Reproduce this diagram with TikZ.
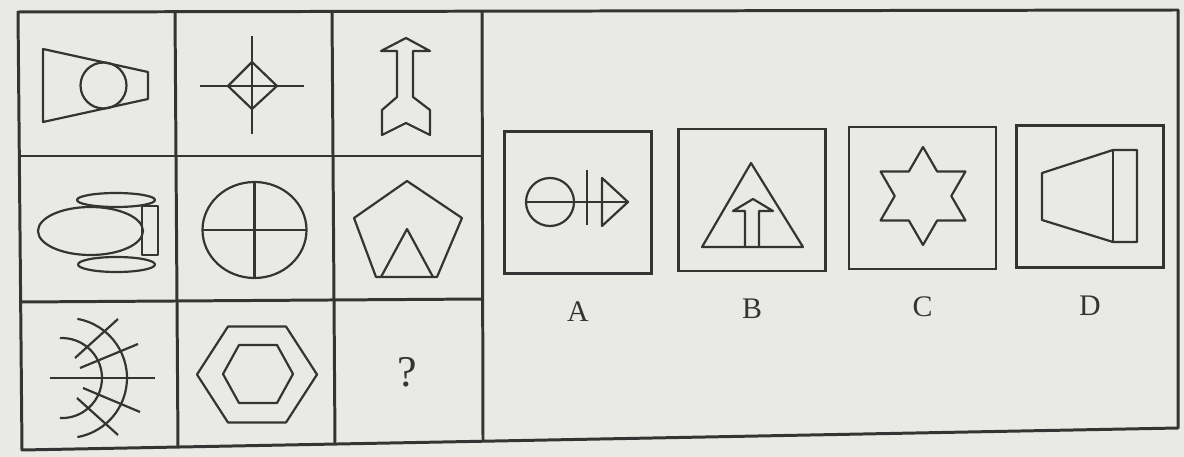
\documentclass[tikz,border=0pt]{standalone}
\usepackage{fontspec}
\setmainfont{Liberation Serif}
\usetikzlibrary{positioning}
\definecolor{PaperGray}{RGB}{233,233,230}
\definecolor{InkGray}{RGB}{52,52,52}
\tikzset{
  gridline/.style={draw=InkGray,line width=1.7pt,line join=round},
  figline/.style={draw=InkGray,line width=1.25pt,line join=round},
  optbox/.style={draw=InkGray,line width=1.5pt,minimum width=2.94cm,minimum height=2.84cm,inner sep=0pt},
  optlabel/.style={font=\fontsize{17}{17}\selectfont,text=InkGray,inner sep=0pt}
}

\begin{document}
\begin{tikzpicture}[x=0.2mm,y=-0.2mm]
\fill[PaperGray] (0,0) rectangle (1184,457);
\useasboundingbox (0,0) rectangle (1184,457);

\coordinate (tl) at (18,12);
\coordinate (tr) at (1178,10);
\coordinate (br) at (1178,428);
\coordinate (bl) at (22,450);
\draw[gridline] (tl) -- (tr) -- (br) -- (bl) -- cycle;
\draw[gridline] (175,12) -- (178,447);
\draw[gridline] (332,11.5) -- (335,444);
\draw[gridline] (482,11) -- (483,441);
\draw[gridline] (18,156) -- (482,156);
\draw[gridline] (20,302) -- (483,299);

\draw[figline] (43,49) -- (148,72) -- (148,99) -- (43,122) -- cycle;
\draw[figline] (103.5,85.5) circle [radius=23];

\draw[figline] (252,36) -- (252,134);
\draw[figline] (200,86) -- (304,86);
\draw[figline] (228,86) -- (252,62) -- (277,86) -- (252,109) -- cycle;

\draw[figline] (406,38) -- (430,51) -- (413,51) -- (413,97) -- (430,110) -- (430,135)
  -- (406,123) -- (382,135) -- (382,110) -- (397,97) -- (397,51) -- (381,51) -- cycle;

\draw[figline] (116,200) ellipse [x radius=39, y radius=7];
\draw[figline] (116.5,264.5) ellipse [x radius=38.5, y radius=7.5];
\draw[figline] (90.5,231) ellipse [x radius=52.5, y radius=24];
\draw[figline] (142,206) rectangle (158,255);

\draw[figline] (254.5,230) ellipse [x radius=52, y radius=48];
\draw[figline] (254.5,182) -- (254.5,278);
\draw[figline] (202.5,230) -- (306.5,230);

\draw[figline] (407,181) -- (462,218) -- (437,277) -- (376,277) -- (354,218) -- cycle;
\draw[figline] (381,277) -- (407,229) -- (433,277);

\draw[figline] (50,378) -- (155,378);
\draw[figline] (77.4,318.9) arc [start angle=-80, end angle=80, radius=60];
\draw[figline] (59.9,338.1) arc [start angle=-93, end angle=93, radius=40];
\draw[figline] (75,358) -- (118,319);
\draw[figline] (80,368) -- (138,344);
\draw[figline] (83,388) -- (140,412);
\draw[figline] (77,398) -- (118,435);

\draw[figline] (197,374.5) -- (228,326.5) -- (286,326.5) -- (317,374.5) -- (286,422.5) -- (228,422.5) -- cycle;
\draw[figline] (223,374) -- (239,345) -- (277,345) -- (293,374) -- (277,403) -- (239,403) -- cycle;

\node[font=\fontsize{25}{25}\selectfont,text=InkGray] (ask) at (407,372) {?};

\node[optbox] (boxA) at (578,202.5) {};
\node[optbox] (boxB) at (752,200) {};
\node[optbox] (boxC) at (922.5,198) {};
\node[optbox] (boxD) at (1090,196.5) {};

\node[optlabel, below=5.3mm of boxA] (labA) {A};
\node[optlabel, below=5.3mm of boxB] (labB) {B};
\node[optlabel, below=5.3mm of boxC] (labC) {C};
\node[optlabel, below=5.3mm of boxD] (labD) {D};

\draw[figline] (550,202) circle [radius=24];
\draw[figline] (526,202) -- (628,202);
\draw[figline] (587,170) -- (587,225);
\draw[figline] (602,178) -- (628,202) -- (602,226) -- cycle;

\draw[figline] (751,163) -- (803,247) -- (702,247) -- cycle;
\draw[figline] (745,247) -- (745,211) -- (733,211) -- (753,199) -- (773,211) -- (759,211) -- (759,247);

\draw[figline, shift={(923,196)}] (90:49)
  \foreach \k in {1,...,11} { -- ({90-30*\k}:{mod(\k,2)==0 ? 49 : 28.3}) } -- cycle;

\draw[figline] (1042,173) -- (1113,150) -- (1137,150) -- (1137,242) -- (1113,242) -- (1042,220) -- cycle;
\draw[figline] (1113,150) -- (1113,242);
\end{tikzpicture}
\end{document}
